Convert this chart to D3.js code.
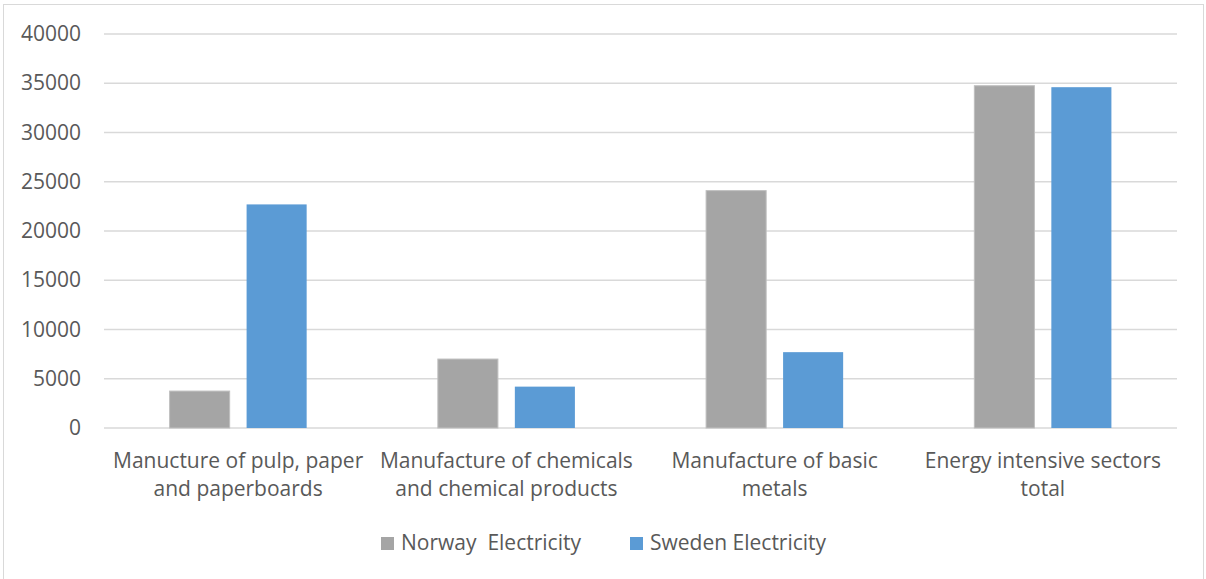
<!DOCTYPE html>
<html>
<head>
<meta charset="utf-8">
<script src="https://cdn.jsdelivr.net/npm/d3@7"></script>
<style>
  body { margin: 0; background: #fff; }
  svg text { font-family: "Open Sans", sans-serif; fill: #595959; }
</style>
</head>
<body>
<div id="chart"></div>
<script>
// values
const categories = [
  ["Manucture of pulp, paper", "and paperboards"],
  ["Manufacture of chemicals", "and chemical products"],
  ["Manufacture of basic", "metals"],
  ["Energy intensive sectors", "total"]
];
const seriesNames = ["Norway  Electricity", "Sweden Electricity"];
const norway = [3750, 7000, 24100, 34750];
const sweden = [22700, 4200, 7700, 34600];
const yTicks = [0, 5000, 10000, 15000, 20000, 25000, 30000, 35000, 40000];

const colors = ["#a5a5a5", "#5b9bd5"];
const W = 1206, H = 579;
const margin = {top: 34, right: 29, bottom: 151, left: 104};
const width = W - margin.left - margin.right,
      height = H - margin.top - margin.bottom;

const svg = d3.select("#chart").append("svg")
  .attr("width", W).attr("height", H);

svg.append("rect")
  .attr("x", 3.5).attr("y", 4.5)
  .attr("width", 1200).attr("height", 590)
  .attr("fill", "none").attr("stroke", "#d9d9d9").attr("stroke-width", 1);

const g = svg.append("g").attr("transform", `translate(${margin.left},${margin.top})`);

const x0 = d3.scaleBand().domain(d3.range(categories.length)).range([0, width]);
const x1 = d3.scaleBand().domain(d3.range(seriesNames.length))
  .range([0, x0.bandwidth()]).paddingInner(0.22).paddingOuter(0.852);
const y = d3.scaleLinear().domain([0, 40000]).range([height, 0]);

// gridlines
g.append("g")
  .selectAll("line").data(yTicks).join("line")
  .attr("x1", 0).attr("x2", width)
  .attr("y1", d => y(d)).attr("y2", d => y(d))
  .attr("stroke", "#d9d9d9").attr("stroke-width", 1.5);

// y axis labels
const yAxis = g.append("g")
  .call(d3.axisLeft(y).tickValues(yTicks).tickSize(0).tickPadding(23).tickFormat(d3.format("d")));
yAxis.select(".domain").remove();
yAxis.selectAll("text")
  .style("font-size", "21px").style("font-family", "'Open Sans', sans-serif").attr("fill", "#595959");

// bars
const data = categories.map((c, i) => [norway[i], sweden[i]]);
g.append("g")
  .selectAll("g").data(data).join("g")
  .attr("transform", (d, i) => `translate(${x0(i)},0)`)
  .selectAll("rect").data(d => d.map((v, k) => ({v, k}))).join("rect")
  .attr("x", d => x1(d.k))
  .attr("y", d => y(d.v))
  .attr("width", x1.bandwidth())
  .attr("height", d => height - y(d.v))
  .attr("fill", d => colors[d.k])
  .attr("stroke", d => d.k === 0 ? "#bfbfbf" : "none")
  .attr("stroke-width", 1);

// category labels
const xl = g.append("g").selectAll("text").data(categories).join("text")
  .attr("text-anchor", "middle")
  .attr("transform", (d, i) => `translate(${x0(i) + x0.bandwidth() / 2},${height + 40})`)
  .style("font-size", "21px");
xl.selectAll("tspan").data(d => d).join("tspan")
  .attr("x", 0).attr("dy", (d, i) => i === 0 ? 0 : 28)
  .text(d => d);

// legend
const legendX = [381, 630];
const legend = svg.append("g").selectAll("g").data(seriesNames).join("g")
  .attr("transform", (d, i) => `translate(${legendX[i]},537)`);
legend.append("rect").attr("width", 13).attr("height", 13).attr("fill", (d, i) => colors[i]);
legend.append("text").attr("x", 20).attr("y", 12.5)
  .style("font-size", "21px").style("white-space", "pre")
  .attr("xml:space", "preserve")
  .text(d => d);
</script>
</body>
</html>
